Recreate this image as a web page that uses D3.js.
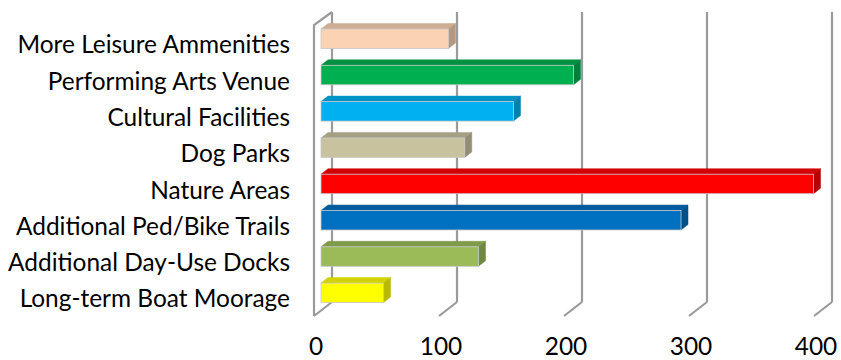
<!DOCTYPE html>
<html>
<head>
<meta charset="utf-8">
<script src="https://cdn.jsdelivr.net/npm/d3@7"></script>
<style>
  html, body { margin: 0; padding: 0; background: #fff; }
  svg { display: block; }
  text { font-family: Lato, "Open Sans", sans-serif; fill: #000; }
</style>
</head>
<body>
<svg id="chart" width="841" height="360"></svg>
<script>
// Survey results: desired amenities
const categories = [
  "More Leisure Ammenities",
  "Performing Arts Venue",
  "Cultural Facilities",
  "Dog Parks",
  "Nature Areas",
  "Additional Ped/Bike Trails",
  "Additional Day-Use Docks",
  "Long-term Boat Moorage"
];
const values = [102, 202, 154, 115, 394, 288, 126, 50];
const frontColors = ["#FBD2B2", "#00B050", "#00B0F0", "#C9C29F", "#FF0000", "#0070C0", "#9BBB59", "#FFFF00"];
const tickValues = [0, 100, 200, 300, 400];

const svg = d3.select("#chart");

// Value scale on the plane of the bars' front faces
const x = d3.scaleLinear().domain([0, 400]).range([321, 821]);
// Category scale: each band is one bar's front face
const y = d3.scaleBand().domain(categories).range([29, 302.6]).paddingInner(0.463).paddingOuter(0);

// Oblique depth offsets
const wallBack = { dx: 11 };   // back wall relative to the bar front plane
const wallFront = { dx: -7 };  // front edge of the floor
const barDepth = { dx: 7, dy: -5.5 };

const wallTopBack = 12, wallBottomBack = 302, wallBottomFront = 316, wallTopFront = 25;
const gridColor = "#9A9A9A";

const grid = svg.append("g").attr("fill", "none").attr("stroke", gridColor).attr("stroke-width", 2.2);

// Back-wall gridlines
grid.selectAll("line.back").data(tickValues).join("line")
  .attr("class", "back")
  .attr("x1", d => x(d) + wallBack.dx).attr("x2", d => x(d) + wallBack.dx)
  .attr("y1", wallTopBack).attr("y2", wallBottomBack);

// Floor gridlines running toward the viewer
grid.selectAll("line.floor").data(tickValues).join("line")
  .attr("class", "floor")
  .attr("x1", d => x(d) + wallBack.dx).attr("y1", wallBottomBack)
  .attr("x2", d => x(d) + wallFront.dx).attr("y2", wallBottomFront);

// Side wall outline (front edge and top edge)
grid.append("polyline")
  .attr("points", [
    [x(0) + wallFront.dx, wallBottomFront],
    [x(0) + wallFront.dx, wallTopFront],
    [x(0) + wallBack.dx, wallTopBack]
  ].map(p => p.join(",")).join(" "));

// Bars drawn as boxes: top, side, front
const bars = svg.append("g").selectAll("g.bar")
  .data(categories.map((c, i) => ({ c, v: values[i], col: frontColors[i] })))
  .join("g").attr("class", "bar");

const h = y.bandwidth();

bars.append("polygon") // top face
  .attr("points", d => {
    const y0 = y(d.c), x0 = x(0), x1 = x(d.v);
    return [[x0, y0], [x1, y0], [x1 + barDepth.dx, y0 + barDepth.dy], [x0 + barDepth.dx, y0 + barDepth.dy]]
      .map(p => p.join(",")).join(" ");
  })
  .attr("fill", d => d3.color(d.col).darker(0.55))
  .attr("stroke", d => d3.color(d.col).darker(0.55))
  .attr("stroke-width", 0.5);

bars.append("polygon") // side face
  .attr("points", d => {
    const y0 = y(d.c), x1 = x(d.v);
    return [[x1, y0], [x1 + barDepth.dx, y0 + barDepth.dy], [x1 + barDepth.dx, y0 + h + barDepth.dy], [x1, y0 + h]]
      .map(p => p.join(",")).join(" ");
  })
  .attr("fill", d => d3.color(d.col).darker(0.9))
  .attr("stroke", d => d3.color(d.col).darker(0.9))
  .attr("stroke-width", 0.5);

bars.append("rect") // front face
  .attr("x", x(0))
  .attr("y", d => y(d.c))
  .attr("width", d => x(d.v) - x(0))
  .attr("height", h)
  .attr("fill", d => d.col)
  .attr("stroke", "#C8C8C8")
  .attr("stroke-width", 0.8);

// Category labels, right-aligned beside the side wall
const labels = svg.append("g").selectAll("text")
  .data(categories).join("text")
  .attr("text-anchor", "end")
  .attr("x", 290)
  .attr("y", d => y(d) + h / 2 + 6)
  .attr("dy", "0.35em")
  .text(d => d);

// Fit the label font so the widest label spans the space left of the wall
labels.style("font-size", "100px");
const widest = d3.max(labels.nodes(), n => n.getComputedTextLength());
const fontSize = 100 * 282 / widest;
labels.style("font-size", fontSize + "px");

// Value axis labels along the front edge of the floor
svg.append("g").selectAll("text")
  .data(tickValues).join("text")
  .attr("text-anchor", "middle")
  .attr("x", d => x(d) + wallFront.dx + 2)
  .attr("y", 355)
  .style("font-size", fontSize + "px")
  .text(d => d3.format("d")(d));
</script>
</body>
</html>
